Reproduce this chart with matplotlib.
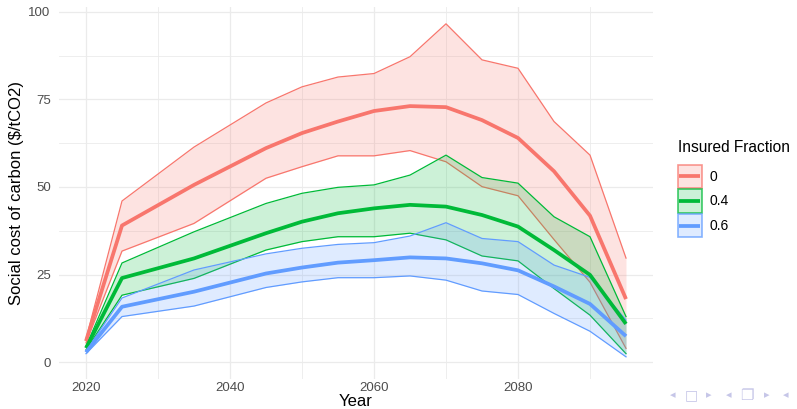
import matplotlib
matplotlib.use("Agg")
import matplotlib.pyplot as plt
from matplotlib.patches import Patch, Rectangle
from matplotlib.lines import Line2D
from matplotlib.ticker import MultipleLocator

plt.rcParams['font.family'] = ['Liberation Sans', 'DejaVu Sans']

years = [2020, 2025, 2035, 2045, 2050, 2055, 2060, 2065, 2070, 2075, 2080, 2085, 2090, 2095]

# insured fraction 0
red_mid = [6.0, 39.0, 50.6, 61.1, 65.4, 68.7, 71.7, 73.1, 72.8, 69.1, 64.0, 54.5, 41.8, 18.0]
red_low = [5.5, 31.7, 39.6, 52.5, 55.8, 58.9, 58.9, 60.4, 57.2, 50.1, 47.5, 35.0, 22.8, 3.9]
red_high = [6.6, 46.0, 61.4, 74.0, 78.6, 81.4, 82.4, 87.2, 96.6, 86.3, 83.9, 68.7, 59.1, 29.7]

# insured fraction 0.4
green_mid = [4.0, 24.0, 29.6, 36.8, 40.1, 42.5, 43.9, 44.9, 44.4, 42.0, 38.7, 32.0, 24.9, 10.9]
green_low = [3.5, 19.1, 23.9, 32.0, 34.4, 35.8, 35.8, 36.8, 34.9, 30.3, 28.9, 21.0, 13.4, 2.4]
green_high = [4.5, 28.3, 37.2, 45.3, 48.2, 49.9, 50.6, 53.4, 59.1, 52.7, 51.1, 41.5, 35.8, 13.0]

# insured fraction 0.6
blue_mid = [2.8, 15.8, 20.1, 25.3, 27.0, 28.4, 29.1, 29.9, 29.6, 28.2, 26.2, 21.6, 16.6, 7.4]
blue_low = [2.4, 13.0, 16.0, 21.3, 22.9, 24.1, 24.1, 24.6, 23.4, 20.3, 19.3, 13.9, 8.8, 1.5]
blue_high = [3.2, 18.3, 26.3, 30.9, 32.5, 33.6, 34.1, 36.0, 39.8, 35.3, 34.4, 27.7, 24.2, 12.0]

labels = ["0", "0.4", "0.6"]
colors = ["#F8766D", "#00BA38", "#619CFF"]

mids = [red_mid, green_mid, blue_mid]
lows = [red_low, green_low, blue_low]
highs = [red_high, green_high, blue_high]


class KeyHandler:
    # ggplot style key: filled box + line through the middle
    def legend_artist(self, legend, orig_handle, fontsize, handlebox):
        x0, y0 = -handlebox.xdescent, -handlebox.ydescent
        w, h = handlebox.width, handlebox.height
        c = orig_handle.get_edgecolor()
        tr = handlebox.get_transform()
        rect = Rectangle((x0, y0), w, h, facecolor=matplotlib.colors.to_rgba(c, 0.2),
                         edgecolor=matplotlib.colors.to_rgba(c, 0.75), lw=1.2, transform=tr)
        line = Line2D([x0 + 1, x0 + w - 1], [y0 + h / 2, y0 + h / 2], color=c, lw=2.7,
                      transform=tr, solid_capstyle='butt')
        handlebox.add_artist(rect)
        handlebox.add_artist(line)
        return rect


fig = plt.figure(figsize=(7.97, 4.09), dpi=100)
ax = fig.add_axes([59/797, 30/409, 594/797, 372/409])

for lo, hi, c in zip(lows, highs, colors):
    ax.fill_between(years, lo, hi, color=c, alpha=0.2, linewidth=0, zorder=2)
    ax.plot(years, lo, color=c, lw=0.9, zorder=2)
    ax.plot(years, hi, color=c, lw=0.9, zorder=2)

for m, c in zip(mids, colors):
    ax.plot(years, m, color=c, lw=2.7, zorder=3, solid_capstyle='butt')

ax.set_xlim(2016.25, 2098.75)
ax.set_ylim(-4.83, 101.4)
ax.xaxis.set_major_locator(MultipleLocator(20))
ax.xaxis.set_minor_locator(MultipleLocator(10))
ax.yaxis.set_major_locator(MultipleLocator(25))
ax.yaxis.set_minor_locator(MultipleLocator(12.5))
ax.grid(which='major', color='#EBEBEB', lw=0.9, zorder=0)
ax.grid(which='minor', color='#EBEBEB', lw=0.6, zorder=0)
ax.set_axisbelow(True)
for s in ax.spines.values():
    s.set_visible(False)
ax.tick_params(which='both', length=0, labelsize=9.5, labelcolor='#4D4D4D')
ax.tick_params(axis='x', pad=2.5)
ax.tick_params(axis='y', pad=6)

ax.set_xlabel("Year", fontsize=12, labelpad=0)
ax.set_ylabel(r"Social cost of carbon (\$/tCO2)", fontsize=12, labelpad=3)

handles = [Patch(edgecolor=c) for c in colors]
leg = fig.legend(handles, labels, title="Insured Fraction", loc='upper left',
                 bbox_to_anchor=(678/797, 1 - 140/409), frameon=False, borderaxespad=0,
                 fontsize=10, title_fontsize=11.2, handlelength=1.7, handleheight=2.2,
                 labelspacing=0.1, handletextpad=0.6, borderpad=0, alignment='left',
                 handler_map={Patch: KeyHandler()})
leg._legend_box.sep = 7

# beamer navigation symbols
nav_color = '#C6C6E8'
for sym, xp, fs in [("◂", 673, 8), ("□", 691, 10), ("▸", 709, 8), ("◂", 729, 8),
                    ("❐", 747, 11), ("▸", 767, 8), ("◂", 786, 8)]:
    fig.text(xp/797, 1 - 395/409, sym, color=nav_color, fontsize=fs,
             ha='center', va='center', family=['DejaVu Sans', 'Noto Sans CJK SC'])

fig.savefig("out.png", dpi=100)
